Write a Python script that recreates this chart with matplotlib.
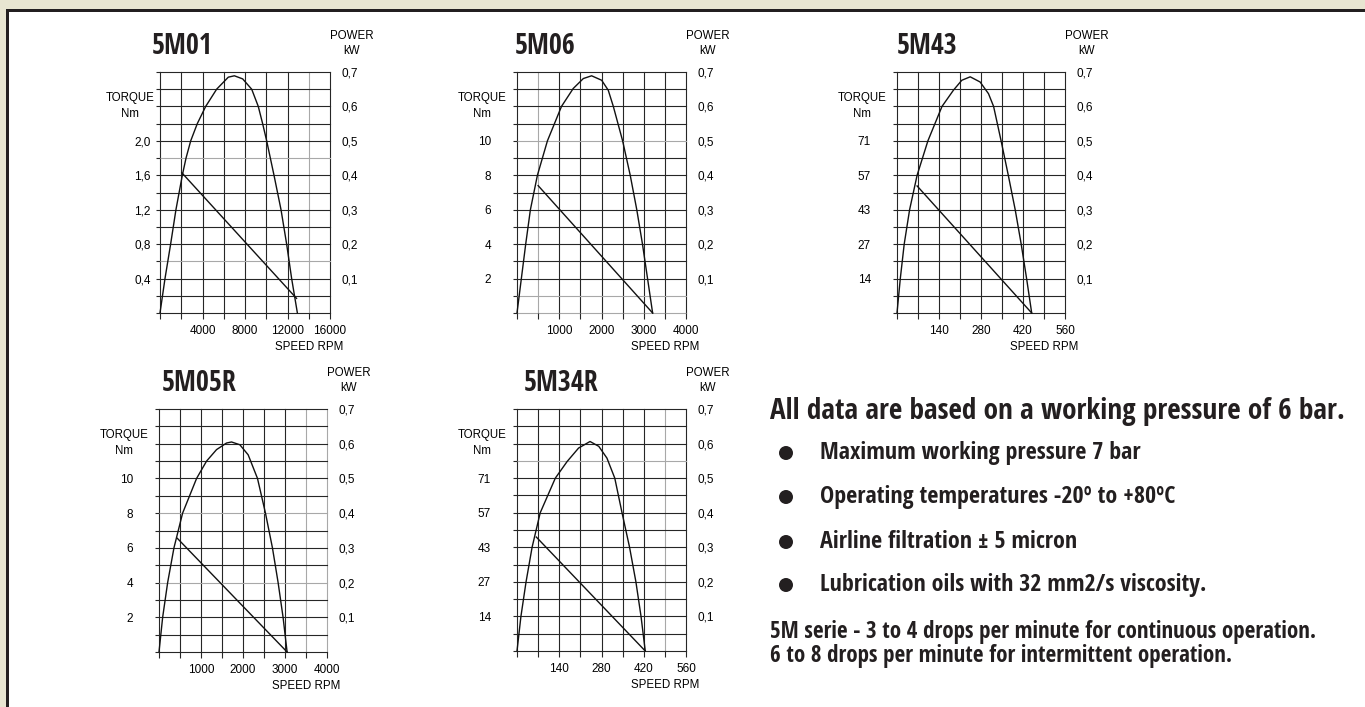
import matplotlib
matplotlib.use("Agg")
import matplotlib.pyplot as plt
from matplotlib import font_manager as fm
from matplotlib.patches import Rectangle, Ellipse

W, H = 1365, 707

# ---- data ----
names = ["5M01", "5M06", "5M43", "5M05R", "5M34R"]

speed_max = [16000, 4000, 560, 4000, 560]
speed_labels = [["4000", "8000", "12000", "16000"],
                ["1000", "2000", "3000", "4000"],
                ["140", "280", "420", "560"],
                ["1000", "2000", "3000", "4000"],
                ["140", "280", "420", "560"]]
torque_per_kw = [4, 20, 142, 20, 142]
torque_labels = [["0,4", "0,8", "1,2", "1,6", "2,0"],
                 ["2", "4", "6", "8", "10"],
                 ["14", "27", "43", "57", "71"],
                 ["2", "4", "6", "8", "10"],
                 ["14", "27", "43", "57", "71"]]
power_labels = ["0,1", "0,2", "0,3", "0,4", "0,5", "0,6", "0,7"]

power_rpm = [
    [0, 470, 1000, 1500, 2100, 2450, 2890, 3510, 4300, 5330, 6430, 7000, 7780, 8630, 9250, 9660, 10040, 10730, 11390, 11920, 12390, 12930],
    [0, 103, 206, 317, 483, 720, 1053, 1330, 1570, 1766, 2004, 2160, 2280, 2500, 2680, 2835, 2970, 3090, 3210],
    [0, 11, 24, 42, 67, 103, 150, 188, 216, 244, 277, 305, 322, 347, 371, 394, 414, 432, 449],
    [0, 87, 206, 356, 562, 895, 1133, 1370, 1608, 1727, 1925, 2123, 2345, 2535, 2701, 2836, 2954, 3050],
    [0, 13, 30, 50, 77, 127, 166, 204, 242, 271, 298, 324, 348, 373, 394, 411, 425],
]
power_kw = [
    [0, 0.1, 0.2, 0.3, 0.4, 0.45, 0.5, 0.55, 0.6, 0.65, 0.685, 0.689, 0.68, 0.65, 0.6, 0.55, 0.5, 0.4, 0.3, 0.2, 0.1, 0],
    [0, 0.1, 0.2, 0.3, 0.4, 0.5, 0.6, 0.652, 0.681, 0.689, 0.676, 0.647, 0.6, 0.5, 0.4, 0.3, 0.2, 0.1, 0],
    [0, 0.1, 0.2, 0.3, 0.4, 0.5, 0.6, 0.647, 0.676, 0.686, 0.671, 0.637, 0.6, 0.5, 0.4, 0.3, 0.2, 0.1, 0],
    [0, 0.1, 0.2, 0.3, 0.4, 0.5, 0.55, 0.583, 0.602, 0.605, 0.597, 0.568, 0.5, 0.4, 0.3, 0.2, 0.1, 0],
    [0, 0.1, 0.2, 0.3, 0.4, 0.5, 0.548, 0.587, 0.606, 0.592, 0.558, 0.5, 0.4, 0.3, 0.2, 0.1, 0],
]
torque_rpm = [[2050, 12850], [500, 3210], [67, 449], [436, 3050], [64, 425]]
torque_nm = [[1.63, 0.17], [7.4, 0.0], [52.4, 0.0], [6.55, 0.0], [46.8, 0.0]]

heading = "All data are based on a working pressure of 6 bar."
bullets = ["Maximum working pressure 7 bar",
           "Operating temperatures -20º to +80ºC",
           "Airline filtration \u00b1 5 micron",
           "Lubrication oils with 32 mm2/s viscosity."]
footer = ["5M serie - 3 to 4 drops per minute for continuous operation.",
          "6 to 8 drops per minute for intermittent operation."]

# ---- layout (pixels, y from top) ----
boxes = [(160, 72, 330, 313), (517, 72, 686, 313), (897, 72, 1065, 313),
         (159, 409, 327, 652), (517, 409, 686, 651)]
title_dx = [22, 28, 30, 40, 44]
title_w = [61, 64, 63, 78, 77]
torque_dx = [30, 35, 35, 35, 35]
torque_pad = [3.6, 15.8, 15.8, 15.8, 15.8]
light_x = [[7], [1], [], [7, 8], [7]]
light_y = [[9, 3], [10, 1, 0], [], [8, 4], [11]]

label_font = ["Liberation Sans", "DejaVu Sans"]

# pick a condensed bold face if one is installed
have = {f.name for f in fm.fontManager.ttflist}
wanted = ["Open Sans Condensed", "Roboto Condensed", "Liberation Sans Narrow",
          "Noto Sans Condensed", "DejaVu Sans Condensed"]
extra = sorted(n for n in have if ("Condensed" in n or "Narrow" in n))
cond = [n for n in wanted if n in have] + [n for n in extra if n not in wanted]
bold_font = (cond[:1] or ["Roboto"]) + ["DejaVu Sans"]


def fx(px):
    return px / W


def fy(py):
    return 1 - py / H


fig = plt.figure(figsize=(W / 100, H / 100), dpi=100)
fig.patch.set_facecolor("white")

# beige page edge and dark frame
fig.add_artist(Rectangle((0, fy(9)), 1, 9 / H, transform=fig.transFigure,
                         facecolor="#e8e5d1", edgecolor="none"))
fig.add_artist(Rectangle((0, 0), 6 / W, 1, transform=fig.transFigure,
                         facecolor="#e8e5d1", edgecolor="none"))
fig.add_artist(Rectangle((6 / W, fy(12)), 1, 3 / H, transform=fig.transFigure,
                         facecolor="#231f20", edgecolor="none"))
fig.add_artist(Rectangle((6 / W, 0), 3 / W, fy(9), transform=fig.transFigure,
                         facecolor="#231f20", edgecolor="none"))

titles = []
for i, name in enumerate(names):
    l, t, r, b = boxes[i]
    ax = fig.add_axes([fx(l), fy(b), (r - l) / W, (b - t) / H])
    axt = ax.twinx()
    xmax = speed_max[i]
    k = torque_per_kw[i]
    ax.set_xlim(0, xmax)
    ax.set_ylim(0, 0.7)
    for a in (ax, axt):
        for s in a.spines.values():
            s.set_visible(False)
        a.patch.set_alpha(0)

    # grid
    for j in range(9):
        c = "#a8a8a8" if j in light_x[i] else "#262626"
        ax.axvline(xmax * j / 8, color=c, lw=0.8, clip_on=False, zorder=1)
    for j in range(15):
        c = "#a8a8a8" if j in light_y[i] else "#262626"
        ax.axhline(0.05 * j, color=c, lw=0.8, clip_on=False, zorder=1)

    # speed ticks
    xt = [xmax * j / 8 for j in range(9)]
    xl = [""] * 9
    for n, lab in enumerate(speed_labels[i]):
        xl[2 * (n + 1)] = lab
    ax.set_xticks(xt)
    ax.set_xticklabels(xl, family=label_font, fontsize=8.5)
    ax.tick_params(axis="x", direction="out", length=4, width=0.8,
                   color="#262626", pad=4.5)

    # power ticks on the right
    ax.yaxis.tick_right()
    ax.set_yticks([0.1 * (n + 1) for n in range(7)])
    ax.set_yticklabels(power_labels, family=label_font, fontsize=8.5)
    ax.tick_params(axis="y", length=0, pad=8.5)

    ax.plot(power_rpm[i], power_kw[i], color="#111111", lw=1.0, zorder=3,
            clip_on=False, solid_joinstyle="round")

    # torque axis on the left
    axt.set_ylim(0, 0.7 * k)
    axt.yaxis.tick_left()
    axt.set_yticks([0.05 * j * k for j in range(15)])
    tl = [""] * 15
    for n, lab in enumerate(torque_labels[i]):
        tl[2 * (n + 1)] = lab
    axt.set_yticklabels(tl, family=label_font, fontsize=8.5)
    axt.tick_params(axis="y", direction="out", length=3, width=0.8,
                    color="#262626", pad=torque_pad[i])
    axt.plot(torque_rpm[i], torque_nm[i], color="#111111", lw=1.0, zorder=3,
             clip_on=False)

    # texts
    titles.append(fig.text(fx(l + title_dx[i]), fy(t - 26), name,
                           family=bold_font, weight="bold", fontsize=20,
                           ha="center", va="center", color="#231f20"))
    fig.text(fx(r + 22), fy(t - 36), "POWER", family=label_font, fontsize=8.3,
             ha="center", va="center")
    fig.text(fx(r + 22), fy(t - 21), "kW", family=label_font, fontsize=8.3,
             ha="center", va="center")
    fig.text(fx(l - torque_dx[i]), fy(t + 26), "TORQUE", family=label_font,
             fontsize=8.3, ha="center", va="center")
    fig.text(fx(l - torque_dx[i]), fy(t + 42), "Nm", family=label_font,
             fontsize=8.3, ha="center", va="center")
    fig.text(fx(r + 13), fy(b + 34), "SPEED RPM", family=label_font,
             fontsize=8.3, ha="right", va="center")

# notes on the right
head = fig.text(fx(770), fy(412), heading, family=bold_font, weight="bold",
                fontsize=16, ha="left", va="center", color="#231f20")
items = []
for n, txt in enumerate(bullets):
    yb = [453, 497, 542, 585][n]
    fig.add_artist(Ellipse((fx(786), fy(yb)), 14 / W, 14 / H,
                           transform=fig.transFigure, facecolor="#231f20",
                           edgecolor="none"))
    items.append(fig.text(fx(820), fy(yb), txt, family=bold_font,
                          weight="bold", fontsize=13.5, ha="left",
                          va="center", color="#231f20"))
foot = []
for n, txt in enumerate(footer):
    foot.append(fig.text(fx(770), fy([632, 656][n]), txt, family=bold_font,
                         weight="bold", fontsize=13.5, ha="left", va="center",
                         color="#231f20"))

# scale each text group so it spans the same width as in the reference
fig.canvas.draw()
rend = fig.canvas.get_renderer()


def fit(texts, widths, size):
    ratio = min(w / tx.get_window_extent(rend).width
                for tx, w in zip(texts, widths))
    for tx in texts:
        tx.set_fontsize(size * ratio)


fit([head], [578], 16)
fit(items, [320, 374, 268, 384], 13.5)
fit(foot, [572, 460], 13.5)
fit(titles, title_w, 20)

fig.savefig("out.png", dpi=100)
